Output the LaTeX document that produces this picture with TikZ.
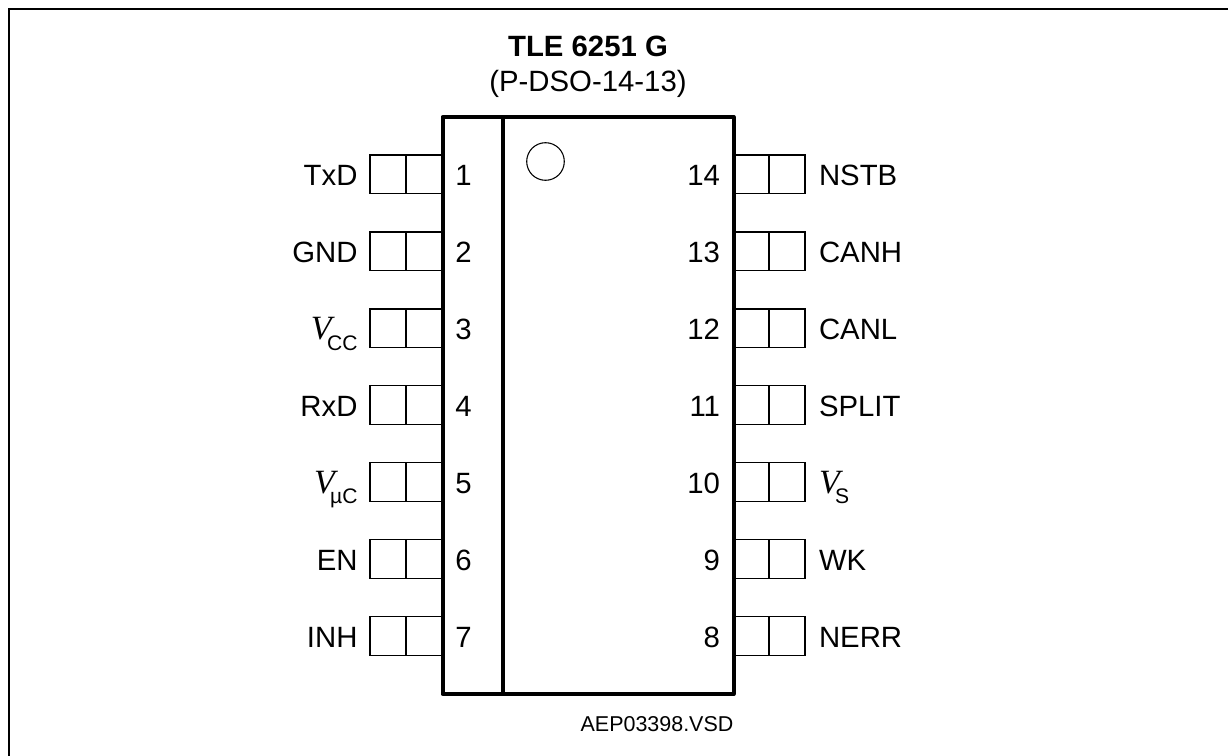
\documentclass[tikz,border=0pt]{standalone}
\usepackage{fontspec}
\setmainfont{Liberation Sans}
\newfontfamily\serifv{Liberation Serif}
\newcommand{\fs}[1]{\fontsize{#1}{#1}\selectfont}
\newcommand{\vsym}[1]{{\fs{25.5}\serifv\itshape V}\kern-3.5pt\raisebox{-7.8pt}{\fs{15.8}#1}}
\tikzset{
  x=0.75pt,y=-0.75pt,
  every node/.style={inner sep=0pt,outer sep=0pt},
  lbl/.style={font=\fs{22}},
  leftlbl/.style={lbl,anchor=base east},
  rightlbl/.style={lbl,anchor=base west},
  numlbl/.style={lbl,anchor=base},
  numr/.style={lbl,anchor=base east},
  pincell/.style={draw,line width=0.95pt,minimum width=27pt,minimum height=28.9pt,anchor=north west},
  thick body/.style={line width=3pt,line join=round},
}
\begin{document}
\begin{tikzpicture}
\useasboundingbox (0,0) rectangle (1228,756);
\fill[white] (0,0) rectangle (1228,756);
\coordinate (fa) at (9,756);
\coordinate (fb) at (9,9);
\coordinate (fc) at (1228,9);
\draw[line width=1.6pt,line join=miter] (fa) -- (fb) -- (fc);
% pins
\foreach \n/\t [count=\i from 0] in {1/TxD,2/GND,3/{\vsym{CC}},4/RxD,5/{\vsym{µC}},6/EN,7/INH}{
  \pgfmathsetmacro{\yy}{155+76.95*\i}
  \node[pincell] (la\n) at (370,\yy) {};
  \node[pincell] (lb\n) at (406,\yy) {};
  \pgfmathsetmacro{\bb}{\yy+30.7}
  \node[numlbl] (ln\n) at (463.5,\bb) {\n};
  \node[leftlbl] (lt\n) at (357.5,\bb) {\t};
}
\foreach \n/\t [count=\i from 0] in {14/NSTB,13/CANH,12/CANL,11/SPLIT,10/{\vsym{S}},9/WK,8/NERR}{
  \pgfmathsetmacro{\yy}{155+76.95*\i}
  \node[pincell] (ra\n) at (733,\yy) {};
  \node[pincell] (rb\n) at (769,\yy) {};
  \pgfmathsetmacro{\bb}{\yy+30.7}
  \node[numr] (rn\n) at (720,\bb) {\n};
  \node[rightlbl] (rt\n) at (819,\bb) {\t};
}
% package
\node[draw,thick body,minimum width=218.25pt,minimum height=432.75pt,anchor=north west] (body) at (442.5,117) {};
\coordinate (dt) at (503,117);
\coordinate (db) at (503,694);
\draw[thick body] (dt) -- (db);
\node[draw,circle,line width=0.8pt,minimum size=28.2pt] (notch) at (545.5,161.5) {};
% titles
\node[anchor=base,font=\fs{22}\bfseries] (title) at (588,56.7) {TLE 6251 G};
\node[anchor=base,font=\fs{22}] (pkg) at (588,91.3) {(P-DSO-14-13)};
\node[anchor=base,font=\fs{16.1}] (ref) at (657,731.7) {AEP03398.VSD};
\end{tikzpicture}
\end{document}
